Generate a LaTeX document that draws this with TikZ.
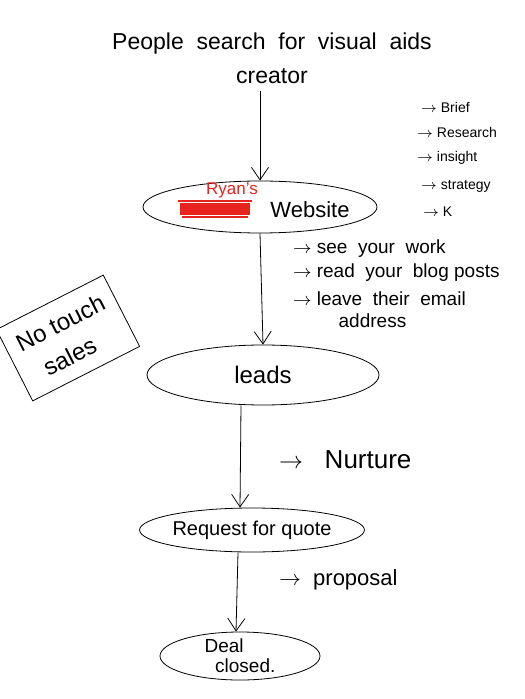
\documentclass[tikz,border=0pt]{standalone}
\usepackage{fontspec}
\setmainfont{Liberation Sans}
\usetikzlibrary{arrows.meta,shapes.geometric}
\definecolor{scribblered}{HTML}{E8231E}

\begin{document}
\begin{tikzpicture}[
        x=0.5pt, y=-0.5pt,
        stagebox/.style={draw, ellipse, thin, inner sep=0pt, font=\fontsize{10}{12}\selectfont},
        notetext/.style={anchor=west, font=\fontsize{9.5}{11}\selectfont, align=left},
        smallnote/.style={anchor=west, font=\fontsize{7}{8}\selectfont},
        flowarrow/.style={-{Straight Barb[length=2.2mm, width=3mm]}, thin},
    ]
    \useasboundingbox (0,0) rectangle (524,699);

    % === Top ===
    \node[font=\fontsize{11.5}{17}\selectfont, align=center] (search) at (272, 58) {People\ \ search\ \ for\ \ visual\ \ aids\\creator};

    % === Website ===
    \node[stagebox, minimum width=117pt, minimum height=26pt] (site) at (260, 207) {};
    \node[font=\fontsize{8.5}{10}\selectfont, text=scribblered] (owner) at (232, 190) {Ryan's};
    \fill[scribblered] (180,203) rectangle (250,215);
    \draw[scribblered, thick] (178,201) -- (252,201) (182,217) -- (248,217);
    \node[font=\fontsize{11}{13}\selectfont] (sitename) at (310, 210) {Website};
    \draw[flowarrow] (search.south -| site.north) -- (site.north);

    % side list next to website
    \node[smallnote] (brief) at (414, 108) {$\rightarrow$ Brief};
    \node[smallnote] (research) at (410, 133) {$\rightarrow$ Research};
    \node[smallnote] (insight) at (410, 158) {$\rightarrow$ insight};
    \node[smallnote] (strategy) at (414, 186) {$\rightarrow$ strategy};
    \node[smallnote] (kpi) at (416, 212) {$\rightarrow$ K};

    % what visitors do
    \node[notetext] (work) at (286, 249) {$\rightarrow$\ see\ \ your\ \ work};
    \node[notetext] (blog) at (286, 273) {$\rightarrow$\ read\ \ your\ \ blog posts};
    \node[notetext] (email) at (286, 310) {$\rightarrow$\ leave\ \ their\ \ email\\\hspace{2.4em}address};

    % === No touch sales ===
    \node[draw, thin, rotate=27, minimum width=60pt, minimum height=40pt, font=\fontsize{12}{17}\selectfont, align=left] (notouch) at (68, 338) {No touch\\\ \ sales};

    % === Leads ===
    \node[stagebox, minimum width=116pt, minimum height=30pt, font=\fontsize{12}{14}\selectfont] (leads) at (263, 375) {leads};
    \draw[flowarrow] (site.south) -- (leads.north);
    \node[anchor=west, font=\fontsize{13}{15}\selectfont] (nurture) at (272, 460) {$\rightarrow$\ \ \ Nurture};

    % === Request for quote ===
    \node[stagebox, minimum width=95pt, minimum height=22pt] (quote) at (252, 530) {Request for quote};
    \draw[flowarrow] ([xshift=-11pt]leads.south) -- ([xshift=-6pt]quote.north);
    \node[anchor=west, font=\fontsize{11}{13}\selectfont] (proposal) at (272, 580) {$\rightarrow$\ \ proposal};

    % === Deal closed ===
    \node[stagebox, minimum width=80pt, minimum height=24pt, align=left, font=\fontsize{9.5}{10}\selectfont] (deal) at (240, 656) {Deal\\\ \ closed.};
    \draw[flowarrow] ([xshift=-7pt]quote.south) -- ([xshift=-2pt]deal.north);

    \end{tikzpicture}
\end{document}
